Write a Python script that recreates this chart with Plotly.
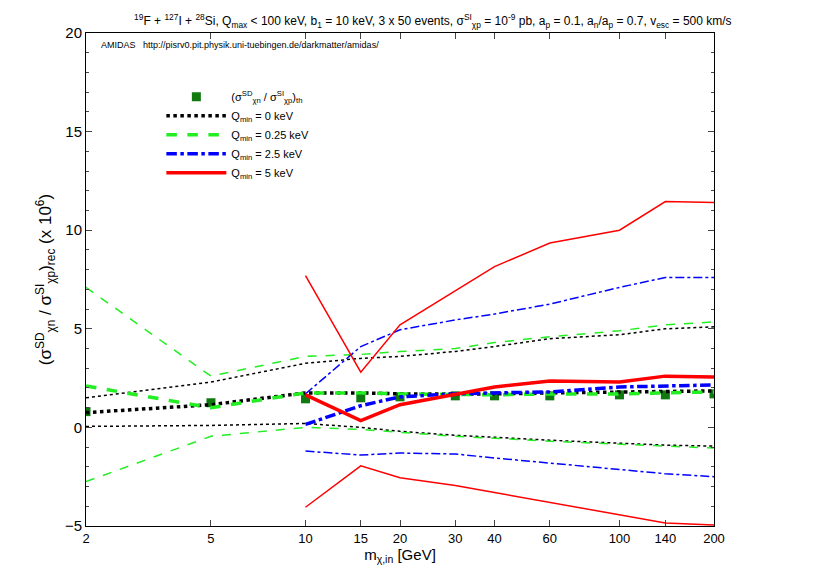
import plotly.graph_objects as go

masses = [2, 5, 10, 15, 20, 30, 40, 60, 100, 140, 200]
masses_hi = [10, 15, 20, 30, 40, 60, 100, 140, 200]
theory = [0.8, 1.25, 1.45, 1.5, 1.55, 1.6, 1.6, 1.6, 1.65, 1.65, 1.7]

q0_mid = [0.75, 1.15, 1.75, 1.75, 1.7, 1.7, 1.7, 1.75, 1.8, 1.85, 1.85]
q0_up = [1.5, 2.3, 3.25, 3.5, 3.6, 3.85, 4.1, 4.5, 4.7, 5.0, 5.1]
q0_lo = [0.05, 0.1, 0.2, 0.0, -0.2, -0.4, -0.5, -0.65, -0.8, -0.9, -0.95]

q025_mid = [2.1, 1.0, 1.75, 1.75, 1.7, 1.65, 1.65, 1.7, 1.7, 1.75, 1.8]
q025_up = [7.1, 2.6, 3.6, 3.7, 3.85, 4.0, 4.3, 4.6, 4.9, 5.2, 5.35]
q025_lo = [-2.75, -0.45, 0.0, -0.1, -0.25, -0.45, -0.55, -0.7, -0.85, -0.95, -1.05]

q25_mid = [0.15, 1.1, 1.55, 1.7, 1.75, 1.8, 2.05, 2.1, 2.15]
q25_up = [1.7, 4.1, 4.95, 5.45, 5.75, 6.25, 7.1, 7.6, 7.6]
q25_lo = [-1.2, -1.4, -1.3, -1.35, -1.55, -1.8, -2.15, -2.35, -2.5]

q5_mid = [1.65, 0.35, 1.15, 1.7, 2.05, 2.35, 2.3, 2.6, 2.55]
q5_up = [7.7, 2.8, 5.2, 6.95, 8.15, 9.35, 10.0, 11.45, 11.4]
q5_lo = [-4.05, -1.95, -2.55, -2.95, -3.3, -3.8, -4.4, -4.85, -4.95]

xticks = [2, 5, 10, 15, 20, 30, 40, 60, 100, 140, 200]

fig = go.Figure()
sets = [
    ("Q<sub>min</sub> = 0 keV", masses, q0_mid, q0_up, q0_lo, "black", "dot"),
    ("Q<sub>min</sub> = 0.25 keV", masses, q025_mid, q025_up, q025_lo, "#22ee22", "dash"),
    ("Q<sub>min</sub> = 2.5 keV", masses_hi, q25_mid, q25_up, q25_lo, "blue", "dashdot"),
    ("Q<sub>min</sub> = 5 keV", masses_hi, q5_mid, q5_up, q5_lo, "red", "solid"),
]
fig.add_trace(go.Scatter(x=masses, y=theory, mode="markers",
                         marker=dict(symbol="square", size=9, color="#107a10"),
                         name="(σ<sup>SD</sup><sub>χn</sub> / σ<sup>SI</sup><sub>χp</sub>)<sub>th</sub>"))
for name, xs, mid, up, lo, col, dash in sets:
    fig.add_trace(go.Scatter(x=xs, y=mid, mode="lines", name=name,
                             line=dict(color=col, dash=dash, width=3.5)))
    for b in (up, lo):
        fig.add_trace(go.Scatter(x=xs, y=b, mode="lines", showlegend=False,
                                 line=dict(color=col, dash=dash, width=1.5)))

fig.update_layout(
    width=817, height=572, plot_bgcolor="white", paper_bgcolor="white",
    margin=dict(l=78, r=111, t=25, b=54, autoexpand=False),
    font=dict(family="Liberation Sans, Arial", size=11, color="black"),
    title=dict(text="<sup>19</sup>F + <sup>127</sup>I + <sup>28</sup>Si, Q<sub>max</sub> < 100 keV, b<sub>1</sub> = 10 keV, 3 x 50 events, σ<sup>SI</sup><sub>χp</sub> = 10<sup>-9</sup> pb, a<sub>p</sub> = 0.1, a<sub>n</sub>/a<sub>p</sub> = 0.7, v<sub>esc</sub> = 500 km/s",
               x=0.52, xanchor="center", y=0.985, yanchor="top", font=dict(size=12)),
    legend=dict(x=0.12, y=0.90, xanchor="left", yanchor="top", bgcolor="rgba(0,0,0,0)",
                font=dict(size=11), tracegroupgap=6, itemwidth=60),
    showlegend=True,
    annotations=[dict(text="AMIDAS   http://pisrv0.pit.physik.uni-tuebingen.de/darkmatter/amidas/",
                      xref="paper", yref="paper", x=0.02, y=0.99, xanchor="left", yanchor="top",
                      showarrow=False, font=dict(size=9))],
)
fig.update_xaxes(type="log", range=[0.30103, 2.30103], tickvals=xticks, ticktext=[str(t) for t in xticks],
                 ticks="inside", ticklen=6, mirror="ticks", showline=True, linecolor="black", linewidth=1,
                 showgrid=False, zeroline=False, tickfont=dict(size=13),
                 title=dict(text="m<sub>χ,in</sub> [GeV]", font=dict(size=15), standoff=0))
fig.update_yaxes(range=[-5, 20], tickvals=[-5, 0, 5, 10, 15, 20], ticks="inside", ticklen=6,
                 minor=dict(dtick=1, ticks="inside", ticklen=3),
                 mirror="ticks", showline=True, linecolor="black", linewidth=1, showgrid=False,
                 zeroline=False, tickfont=dict(size=15),
                 title=dict(text="(σ<sup>SD</sup><sub>χn</sub> / σ<sup>SI</sup><sub>χp</sub>)<sub>rec</sub> (x 10<sup>6</sup>)",
                            font=dict(size=17), standoff=8))
fig.write_html("out.html")
